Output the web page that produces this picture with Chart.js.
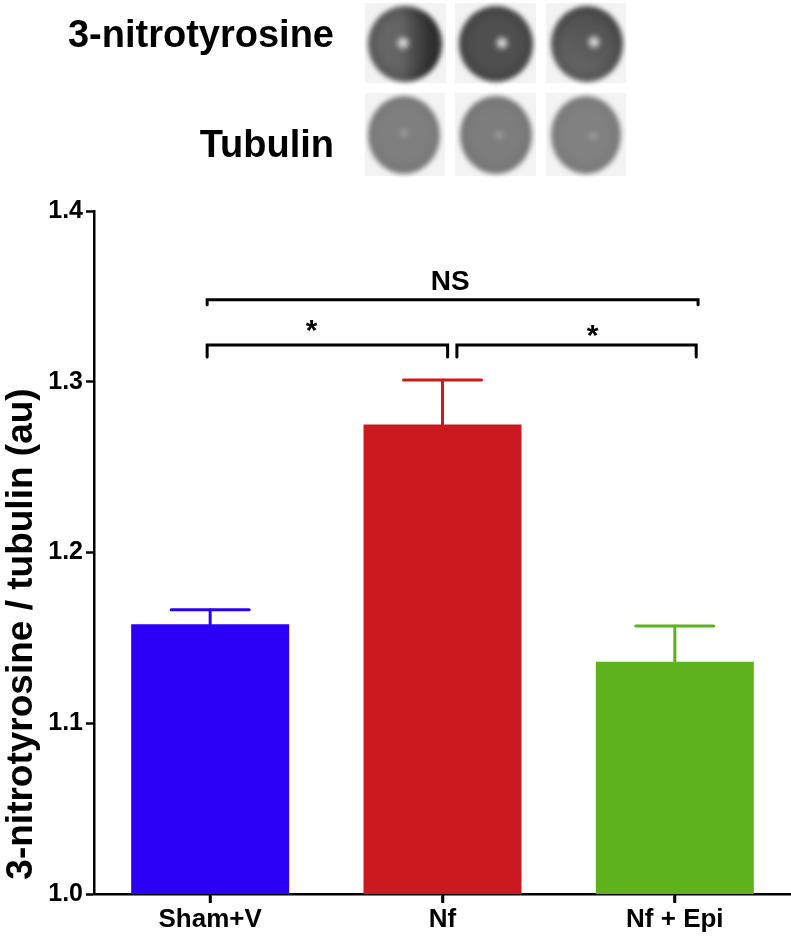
<!DOCTYPE html>
<html>
<head>
<meta charset="utf-8">
<script src="https://cdn.jsdelivr.net/npm/chart.js@4.4.1/dist/chart.umd.min.js"></script>
<style>
html,body{margin:0;padding:0;background:#fff;}
#wrap{width:791px;height:937px;position:relative;}
canvas{display:block;}
</style>
</head>
<body>
<div id="wrap"><canvas id="c" width="791" height="937"></canvas></div>
<script>
// ---------- data ----------
const categories = ['Sham+V', 'Nf', 'Nf + Epi'];
const meanValues = [1.158, 1.275, 1.136];
const errorValues = [0.0085, 0.026, 0.021];
const yTickValues = [1.0, 1.1, 1.2, 1.3, 1.4];
const yAxisTitle = '3-nitrotyrosine / tubulin (au)';
const blotRowLabels = ['3-nitrotyrosine', 'Tubulin'];
const comparisonLabels = ['NS', '*', '*'];
const comparisonPairs = [[0, 2], [0, 1], [1, 2]];

// ---------- styles / layout ----------
const FONT = '"Liberation Sans", Arial, Helvetica, sans-serif';
const barColors = ['#2a00f6', '#cb1a1f', '#5db21e'];
const bracketLayout = [
  { from: -0.013, to: 2.10, y: 1.348, drop: 5, labelX: 1.033, labelY: 1.3585, font: 'bold 28px', baseline: 'middle' },
  { from: -0.013, to: 1.022, y: 1.3215, drop: 12, labelX: 0.437, labelY: 1.3245, font: 'bold 30px', baseline: 'alphabetic' },
  { from: 1.062, to: 2.092, y: 1.3215, drop: 12, labelX: 1.646, labelY: 1.3215, font: 'bold 30px', baseline: 'alphabetic' }
];
const blotStyle = [
  // row 1 (3-nitrotyrosine)
  { box: [365, 3, 81, 80], c: [405, 44], r: [37, 38], base: '#5e5e5e', dark: 'right', spot: [403, 43] },
  { box: [455, 3, 81, 80], c: [496, 44], r: [37, 38], base: '#4f4f4f', dark: null, spot: [502, 43] },
  { box: [546, 3, 80, 80], c: [587, 44], r: [36, 38], base: '#5a5a5a', dark: 'light-lower', spot: [594, 42] },
  // row 2 (tubulin)
  { box: [365, 93, 80, 83], c: [404, 135], r: [36, 39], base: '#7f7f7f', dark: null, spot: [404, 133], faint: true },
  { box: [455, 93, 81, 83], c: [496, 135], r: [36, 39], base: '#7d7d7d', dark: null, spot: [499, 135], faint: true },
  { box: [546, 93, 80, 83], c: [586, 135], r: [35, 39], base: '#818181', dark: null, spot: [593, 136], faint: true }
];

function drawBlot(ctx, b) {
  ctx.save();
  ctx.fillStyle = '#f3f3f3';
  ctx.fillRect(b.box[0], b.box[1], b.box[2], b.box[3]);
  ctx.filter = 'blur(2.4px)';
  const [cx, cy] = b.c, [rx, ry] = b.r;
  ctx.beginPath();
  ctx.ellipse(cx, cy, rx, ry, 0, 0, Math.PI * 2);
  let fill;
  if (b.dark === 'right') {
    fill = ctx.createLinearGradient(cx - rx, cy, cx + rx, cy);
    fill.addColorStop(0, '#686868');
    fill.addColorStop(0.45, '#646464');
    fill.addColorStop(0.62, '#4c4c4c');
    fill.addColorStop(0.85, '#303030');
    fill.addColorStop(1, '#3a3a3a');
  } else if (b.dark === 'light-lower') {
    fill = ctx.createLinearGradient(cx + rx * 0.5, cy - ry, cx - rx * 0.5, cy + ry);
    fill.addColorStop(0, '#4e4e4e');
    fill.addColorStop(0.5, '#595959');
    fill.addColorStop(1, '#6a6a6a');
  } else {
    fill = b.base;
  }
  ctx.fillStyle = fill;
  ctx.fill();
  ctx.save();
  ctx.translate(cx, cy);
  ctx.scale(1, ry / rx);
  const g = ctx.createRadialGradient(0, 0, 0, 0, 0, rx);
  g.addColorStop(0, 'rgba(0,0,0,0)');
  g.addColorStop(0.65, 'rgba(0,0,0,0)');
  g.addColorStop(0.92, b.faint ? 'rgba(0,0,0,0.05)' : 'rgba(0,0,0,0.14)');
  g.addColorStop(1, 'rgba(0,0,0,0)');
  ctx.beginPath();
  ctx.arc(0, 0, rx, 0, Math.PI * 2);
  ctx.fillStyle = g;
  ctx.fill();
  ctx.restore();
  const rr = b.faint ? 6 : 8;
  const s = ctx.createRadialGradient(b.spot[0], b.spot[1], 0, b.spot[0], b.spot[1], rr);
  s.addColorStop(0, b.faint ? 'rgba(190,190,190,0.8)' : 'rgba(250,250,250,1)');
  s.addColorStop(0.5, b.faint ? 'rgba(170,170,170,0.4)' : 'rgba(225,225,225,0.7)');
  s.addColorStop(1, 'rgba(200,200,200,0)');
  ctx.fillStyle = s;
  ctx.beginPath();
  ctx.arc(b.spot[0], b.spot[1], rr, 0, Math.PI * 2);
  ctx.fill();
  ctx.restore();
}

const decorPlugin = {
  id: 'decor',
  afterDraw(chart) {
    const ctx = chart.ctx;
    const { x, y } = chart.scales;
    ctx.save();
    ctx.fillStyle = '#000';
    ctx.font = 'bold 38px ' + FONT;
    ctx.textAlign = 'right';
    ctx.textBaseline = 'middle';
    ctx.fillText(blotRowLabels[0], 334, 37);
    ctx.fillText(blotRowLabels[1], 334, 147);
    blotStyle.forEach(b => drawBlot(ctx, b));
    // y-axis title
    ctx.save();
    ctx.translate(22, 634);
    ctx.rotate(-Math.PI / 2);
    ctx.fillStyle = '#000';
    ctx.font = 'bold 37px ' + FONT;
    ctx.textAlign = 'center';
    ctx.textBaseline = 'middle';
    ctx.fillText(yAxisTitle, 0, 0);
    ctx.restore();
    // x-axis tick marks at category centres
    ctx.strokeStyle = '#000';
    ctx.lineWidth = 2.5;
    ctx.lineCap = 'butt';
    categories.forEach((c, i) => {
      const px = Math.round(x.getPixelForValue(i));
      ctx.beginPath();
      ctx.moveTo(px, chart.chartArea.bottom);
      ctx.lineTo(px, chart.chartArea.bottom + 9);
      ctx.stroke();
    });
    // significance brackets
    ctx.fillStyle = '#000';
    ctx.lineWidth = 3;
    ctx.lineCap = 'round';
    bracketLayout.forEach((br, i) => {
      const x0 = x.getPixelForValue(br.from);
      const x1 = x.getPixelForValue(br.to);
      const yy = y.getPixelForValue(br.y);
      ctx.beginPath();
      ctx.moveTo(x0, yy + br.drop);
      ctx.lineTo(x0, yy);
      ctx.lineTo(x1, yy);
      ctx.lineTo(x1, yy + br.drop);
      ctx.stroke();
      ctx.font = br.font + ' ' + FONT;
      ctx.textAlign = 'center';
      ctx.textBaseline = br.baseline;
      ctx.fillText(comparisonLabels[i], x.getPixelForValue(br.labelX), y.getPixelForValue(br.labelY));
    });
    ctx.restore();
  }
};

const errorBarPlugin = {
  id: 'errorBars',
  afterDatasetsDraw(chart) {
    const ctx = chart.ctx;
    const y = chart.scales.y;
    const meta = chart.getDatasetMeta(0);
    ctx.save();
    ctx.lineWidth = 3;
    ctx.lineCap = 'round';
    meta.data.forEach((bar, i) => {
      const top = y.getPixelForValue(meanValues[i]);
      const hi = y.getPixelForValue(meanValues[i] + errorValues[i]);
      ctx.strokeStyle = barColors[i];
      ctx.beginPath();
      ctx.moveTo(bar.x, top);
      ctx.lineTo(bar.x, hi);
      ctx.stroke();
      ctx.beginPath();
      ctx.moveTo(bar.x - 39, hi);
      ctx.lineTo(bar.x + 39, hi);
      ctx.stroke();
    });
    ctx.restore();
  }
};

new Chart(document.getElementById('c'), {
  type: 'bar',
  data: {
    labels: categories,
    datasets: [{
      data: meanValues,
      backgroundColor: barColors,
      borderWidth: 0,
      barPercentage: 0.68,
      categoryPercentage: 1.0
    }]
  },
  options: {
    responsive: false,
    animation: false,
    devicePixelRatio: 1,
    layout: { padding: { top: 211, left: 0, right: 0, bottom: 0 } },
    plugins: { legend: { display: false }, tooltip: { enabled: false }, title: { display: false } },
    scales: {
      x: {
        grid: { display: true, offset: false, drawOnChartArea: false, drawTicks: true, tickLength: 9, tickWidth: 2.5, tickColor: '#000' },
        border: { display: true, color: '#000', width: 2.5 },
        ticks: { color: '#000', font: { family: FONT, weight: 'bold', size: 26 }, padding: 1, maxRotation: 0 },
        afterFit(scale) { scale.height = 43; }
      },
      y: {
        min: 1.0,
        max: 1.4,
        afterBuildTicks(scale) { scale.ticks = yTickValues.map(v => ({ value: v })); },
        grid: { display: true, drawOnChartArea: false, drawTicks: true, tickLength: 8, tickWidth: 2.5, tickColor: '#000' },
        border: { display: true, color: '#000', width: 2.5 },
        ticks: { color: '#000', font: { family: FONT, weight: 'bold', size: 25 }, padding: 3,
                 callback: v => Number(v).toFixed(1) },
        afterFit(scale) { scale.width = 94; }
      }
    }
  },
  plugins: [errorBarPlugin, decorPlugin]
});
</script>
</body>
</html>
